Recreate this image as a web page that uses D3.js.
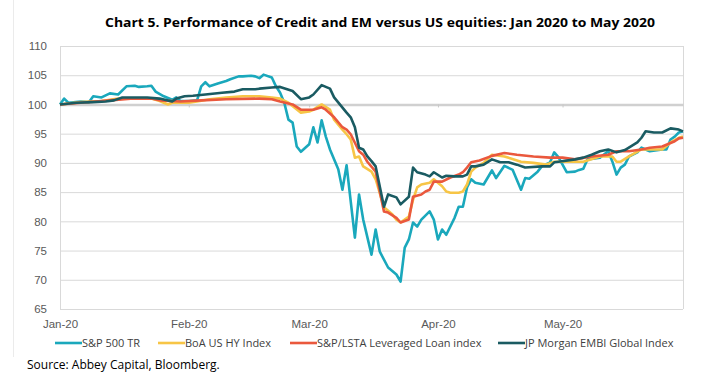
<!DOCTYPE html>
<html>
<head>
<meta charset="utf-8">
<script src="https://cdn.jsdelivr.net/npm/d3@7"></script>
<style>
  body { margin: 0; background: #fff; }
  svg { display: block; font-family: "Open Sans", sans-serif; }
  .grid line { stroke: #d9d9d9; stroke-width: 1; }
  .ylab text, .xlab text { fill: #595959; font-size: 11.5px; }
  .legend text { fill: #404040; font-size: 11px; }
</style>
</head>
<body>
<div class="chart"></div>
<script>
// values (index, 1 Jan 2020 = 100)
var sp500 = [
  ["2020-01-01",100.0],["2020-01-02",101.0],["2020-01-03",100.3],["2020-01-06",100.5],["2020-01-08",100.4],
  ["2020-01-09",101.4],["2020-01-11",101.2],["2020-01-13",101.9],["2020-01-15",101.7],["2020-01-17",103.1],
  ["2020-01-19",103.2],["2020-01-20",103.0],["2020-01-22",103.1],["2020-01-23",103.2],["2020-01-24",102.2],
  ["2020-01-26",101.4],["2020-01-28",100.8],["2020-01-29",101.2],["2020-01-30",100.6],["2020-02-01",100.6],
  ["2020-02-03",100.7],["2020-02-04",103.1],["2020-02-05",103.8],["2020-02-06",103.1],["2020-02-08",103.6],
  ["2020-02-10",104.0],["2020-02-11",104.3],["2020-02-13",104.8],["2020-02-14",104.8],["2020-02-16",104.9],
  ["2020-02-17",104.8],["2020-02-18",104.5],["2020-02-19",105.1],["2020-02-21",104.6],["2020-02-22",103.1],
  ["2020-02-23",102.0],["2020-02-24",100.3],["2020-02-25",97.4],["2020-02-26",96.9],["2020-02-27",92.8],
  ["2020-02-28",91.9],["2020-03-01",93.2],["2020-03-02",96.1],["2020-03-03",93.5],["2020-03-04",97.3],
  ["2020-03-05",94.5],["2020-03-06",92.3],["2020-03-08",88.9],["2020-03-09",85.4],["2020-03-10",89.6],
  ["2020-03-12",77.2],["2020-03-13",84.6],["2020-03-14",80.3],["2020-03-16",74.3],["2020-03-17",78.6],
  ["2020-03-18",74.8],["2020-03-20",72.1],["2020-03-22",70.9],["2020-03-23",69.7],["2020-03-24",75.5],
  ["2020-03-25",76.9],["2020-03-26",79.8],["2020-03-27",79.1],["2020-03-28",80.3],["2020-03-30",81.7],
  ["2020-03-31",80.3],["2020-04-01",76.9],["2020-04-02",78.6],["2020-04-03",77.7],["2020-04-05",80.6],
  ["2020-04-06",82.5],["2020-04-07",82.5],["2020-04-08",85.8],["2020-04-09",87.2],["2020-04-10",86.6],
  ["2020-04-12",86.3],["2020-04-14",88.7],["2020-04-15",87.4],["2020-04-17",89.5],["2020-04-19",88.8],
  ["2020-04-21",85.4],["2020-04-22",87.4],["2020-04-23",87.3],["2020-04-25",88.5],["2020-04-26",89.4],
  ["2020-04-28",90.1],["2020-04-29",91.8],["2020-04-30",91.0],["2020-05-02",88.4],["2020-05-04",88.5],
  ["2020-05-05",88.8],["2020-05-06",89.0],["2020-05-07",90.6],["2020-05-10",90.9],["2020-05-12",92.0],
  ["2020-05-13",90.2],["2020-05-14",88.0],["2020-05-15",89.2],["2020-05-16",89.7],["2020-05-17",91.1],
  ["2020-05-19",91.8],["2020-05-20",92.6],["2020-05-22",92.0],["2020-05-25",92.3],["2020-05-26",92.3],
  ["2020-05-27",94.0],["2020-05-28",94.5],["2020-05-29",95.2],["2020-05-30",95.4]
];

var boaHY = [
  ["2020-01-01",100.0],["2020-01-06",100.4],["2020-01-11",100.6],["2020-01-15",101.0],["2020-01-23",101.0],
  ["2020-01-25",100.6],["2020-01-27",100.0],["2020-01-28",100.3],["2020-02-01",100.3],["2020-02-03",100.5],
  ["2020-02-06",100.9],["2020-02-10",101.2],["2020-02-14",101.4],["2020-02-18",101.4],["2020-02-21",101.2],
  ["2020-02-23",101.0],["2020-02-25",100.3],["2020-02-28",98.6],["2020-03-01",98.8],["2020-03-02",99.1],
  ["2020-03-04",100.0],["2020-03-06",99.1],["2020-03-07",97.4],["2020-03-09",95.7],["2020-03-10",94.9],
  ["2020-03-11",94.0],["2020-03-12",90.9],["2020-03-13",91.1],["2020-03-14",89.4],["2020-03-16",88.5],
  ["2020-03-17",87.2],["2020-03-19",82.4],["2020-03-21",81.2],["2020-03-22",80.3],["2020-03-23",79.8],
  ["2020-03-25",80.8],["2020-03-26",83.7],["2020-03-27",85.8],["2020-03-28",86.3],["2020-03-30",86.6],
  ["2020-03-31",87.2],["2020-04-02",86.0],["2020-04-03",85.1],["2020-04-04",84.9],["2020-04-06",84.9],
  ["2020-04-07",85.1],["2020-04-08",86.3],["2020-04-09",88.5],["2020-04-10",89.2],["2020-04-12",90.0],
  ["2020-04-14",91.4],["2020-04-17",91.1],["2020-04-21",90.2],["2020-04-24",90.0],["2020-04-27",89.7],
  ["2020-04-29",90.2],["2020-05-03",90.2],["2020-05-06",90.2],["2020-05-10",91.1],["2020-05-13",91.1],
  ["2020-05-14",90.2],["2020-05-15",90.2],["2020-05-17",91.1],["2020-05-20",92.3],["2020-05-25",92.3],
  ["2020-05-27",93.5],["2020-05-29",94.3],["2020-05-30",94.5]
];

var lstaLoan = [
  ["2020-01-01",100.0],["2020-01-06",100.3],["2020-01-13",100.7],["2020-01-18",101.0],["2020-01-23",101.0],
  ["2020-01-25",100.7],["2020-01-30",100.5],["2020-02-04",100.7],["2020-02-10",100.9],["2020-02-18",101.0],
  ["2020-02-21",100.9],["2020-02-23",100.5],["2020-02-26",100.0],["2020-02-28",99.1],["2020-03-02",99.1],
  ["2020-03-04",99.5],["2020-03-05",99.1],["2020-03-07",97.8],["2020-03-09",96.1],["2020-03-10",95.7],
  ["2020-03-11",94.9],["2020-03-13",92.0],["2020-03-14",91.4],["2020-03-15",90.2],["2020-03-17",88.5],
  ["2020-03-19",81.7],["2020-03-20",81.5],["2020-03-22",80.6],["2020-03-23",79.8],["2020-03-25",80.3],
  ["2020-03-26",84.2],["2020-03-28",84.6],["2020-03-29",85.1],["2020-03-30",85.4],["2020-03-31",86.8],
  ["2020-04-02",86.8],["2020-04-04",87.5],["2020-04-06",88.0],["2020-04-07",88.4],["2020-04-08",89.2],
  ["2020-04-09",90.1],["2020-04-11",90.4],["2020-04-14",91.2],["2020-04-17",91.7],["2020-04-20",91.4],
  ["2020-04-24",91.1],["2020-04-28",90.9],["2020-05-01",90.9],["2020-05-04",90.6],["2020-05-08",91.1],
  ["2020-05-12",91.4],["2020-05-14",92.0],["2020-05-17",92.0],["2020-05-20",92.3],["2020-05-22",92.6],
  ["2020-05-25",92.8],["2020-05-28",93.7],["2020-05-29",94.2],["2020-05-30",94.3]
];

var embiGlobal = [
  ["2020-01-01",100.0],["2020-01-05",100.3],["2020-01-09",100.4],["2020-01-12",100.5],["2020-01-14",100.7],
  ["2020-01-16",101.2],["2020-01-22",101.2],["2020-01-25",101.0],["2020-01-28",100.5],["2020-01-29",101.0],
  ["2020-01-31",101.4],["2020-02-02",101.5],["2020-02-05",101.7],["2020-02-09",102.0],["2020-02-12",102.2],
  ["2020-02-14",102.6],["2020-02-17",102.6],["2020-02-18",102.7],["2020-02-21",102.9],["2020-02-23",103.0],
  ["2020-02-26",102.3],["2020-02-28",100.9],["2020-03-01",101.2],["2020-03-02",101.7],["2020-03-04",103.3],
  ["2020-03-06",102.7],["2020-03-07",101.2],["2020-03-10",98.6],["2020-03-11",97.8],["2020-03-12",96.1],
  ["2020-03-13",92.6],["2020-03-14",92.3],["2020-03-15",91.1],["2020-03-16",90.3],["2020-03-17",89.4],
  ["2020-03-19",82.5],["2020-03-20",84.6],["2020-03-22",84.1],["2020-03-23",82.9],["2020-03-25",84.2],
  ["2020-03-26",89.2],["2020-03-27",88.4],["2020-03-29",88.0],["2020-03-30",87.7],["2020-03-31",88.4],
  ["2020-04-02",87.5],["2020-04-03",87.8],["2020-04-05",87.7],["2020-04-07",87.7],["2020-04-08",88.0],
  ["2020-04-09",89.4],["2020-04-10",89.4],["2020-04-12",89.7],["2020-04-14",90.6],["2020-04-16",90.1],
  ["2020-04-18",90.1],["2020-04-20",89.7],["2020-04-22",89.2],["2020-04-26",89.4],["2020-04-28",89.4],
  ["2020-04-29",90.1],["2020-04-30",90.2],["2020-05-04",90.6],["2020-05-06",90.9],["2020-05-08",91.4],
  ["2020-05-10",92.0],["2020-05-12",92.3],["2020-05-14",91.8],["2020-05-16",92.2],["2020-05-19",93.5],
  ["2020-05-20",94.3],["2020-05-21",95.4],["2020-05-23",95.2],["2020-05-25",95.2],["2020-05-27",95.9],
  ["2020-05-29",95.7],["2020-05-30",95.4]
];

var seriesNames = ["S&P 500 TR", "BoA US HY Index", "S&P/LSTA Leveraged Loan index", "JP Morgan EMBI Global Index"];
var seriesColors = ["#1aa8bc", "#f7c546", "#ea583d", "#1a5b62"];
var yTicks = [65, 70, 75, 80, 85, 90, 95, 100, 105, 110];
var monthTicks = ["2020-01-01", "2020-02-01", "2020-03-01", "2020-04-01", "2020-05-01"];
var dateRange = ["2020-01-01", "2020-05-30"];

var parse = d3.utcParse("%Y-%m-%d");

function drawChart() {
  var width = 710, height = 377;
  var svg = d3.select(".chart").append("svg")
    .attr("width", width)
    .attr("height", height);

  var x = d3.scaleUtc()
    .domain(dateRange.map(parse))
    .range([60, 683]);
  var y = d3.scaleLinear()
    .domain([65, 110])
    .range([309, 46]);

  // faint outer chart frame edge
  svg.append("line")
    .attr("x1", 13.5).attr("x2", 13.5)
    .attr("y1", 0).attr("y2", 357)
    .style("stroke", "#ebebeb");

  svg.append("text")
    .attr("x", 380)
    .attr("y", 27)
    .attr("text-anchor", "middle")
    .attr("textLength", 550)
    .attr("lengthAdjust", "spacingAndGlyphs")
    .style("font-size", "13px")
    .style("font-weight", "bold")
    .style("fill", "#000")
    .text("Chart 5. Performance of Credit and EM versus US equities: Jan 2020 to May 2020");

  // gridlines
  svg.append("g")
    .attr("class", "grid")
    .attr("transform", "translate(60,0)")
    .call(d3.axisLeft(y).tickValues(yTicks).tickSize(-(683 - 60)).tickFormat(""))
    .call(function(g) { g.select(".domain").remove(); });

  // plot area sides
  svg.append("line")
    .attr("x1", 60.5).attr("x2", 60.5).attr("y1", y(110)).attr("y2", y(65))
    .style("stroke", "#d9d9d9");
  svg.append("line")
    .attr("x1", 683.5).attr("x2", 683.5).attr("y1", y(110)).attr("y2", y(65))
    .style("stroke", "#d9d9d9");

  // y labels
  svg.append("g")
    .attr("class", "ylab")
    .attr("transform", "translate(47,0)")
    .call(d3.axisLeft(y).tickValues(yTicks).tickSize(0).tickPadding(0).tickFormat(d3.format("d")))
    .call(function(g) { g.select(".domain").remove(); });

  // category axis crosses at 100
  var xAxis = svg.append("g")
    .attr("transform", "translate(0," + y(100) + ")")
    .call(d3.axisBottom(x).tickValues(monthTicks.map(parse)).tickSize(3).tickSizeOuter(0).tickFormat(""));
  xAxis.select(".domain").style("stroke", "#d0d0d0").style("stroke-width", 2.5);
  xAxis.selectAll(".tick line").style("stroke", "#c8c8c8");

  // month labels at the bottom
  svg.append("g")
    .attr("class", "xlab")
    .attr("transform", "translate(0," + y(65) + ")")
    .call(d3.axisBottom(x).tickValues(monthTicks.map(parse)).tickSize(0).tickPadding(11).tickFormat(d3.utcFormat("%b-%y")))
    .call(function(g) { g.select(".domain").remove(); });

  var line = d3.line()
    .x(function(d) { return x(parse(d[0])); })
    .y(function(d) { return y(d[1]); });

  var allSeries = [sp500, boaHY, lstaLoan, embiGlobal];
  svg.selectAll(".series")
    .data(allSeries)
    .enter().append("path")
      .attr("class", "series")
      .attr("d", line)
      .style("fill", "none")
      .style("stroke", function(d, i) { return seriesColors[i]; })
      .style("stroke-width", 2.6)
      .style("stroke-linejoin", "round");

  // legend
  var legendX = [55, 158, 290, 498];
  var legend = svg.selectAll(".legend")
      .data(seriesNames)
    .enter().append("g")
      .attr("class", "legend")
      .attr("transform", function(d, i) { return "translate(" + legendX[i] + ",343)"; });

  legend.append("line")
    .attr("x1", 0).attr("x2", 27)
    .style("stroke", function(d, i) { return seriesColors[i]; })
    .style("stroke-width", 2.6);

  legend.append("text")
    .attr("x", 27)
    .attr("dy", "0.35em")
    .text(function(d) { return d; });

  svg.append("text")
    .attr("x", 27)
    .attr("y", 369)
    .style("font-size", "12px")
    .style("fill", "#000")
    .text("Source: Abbey Capital, Bloomberg.");
}

drawChart();
</script>
</body>
</html>
